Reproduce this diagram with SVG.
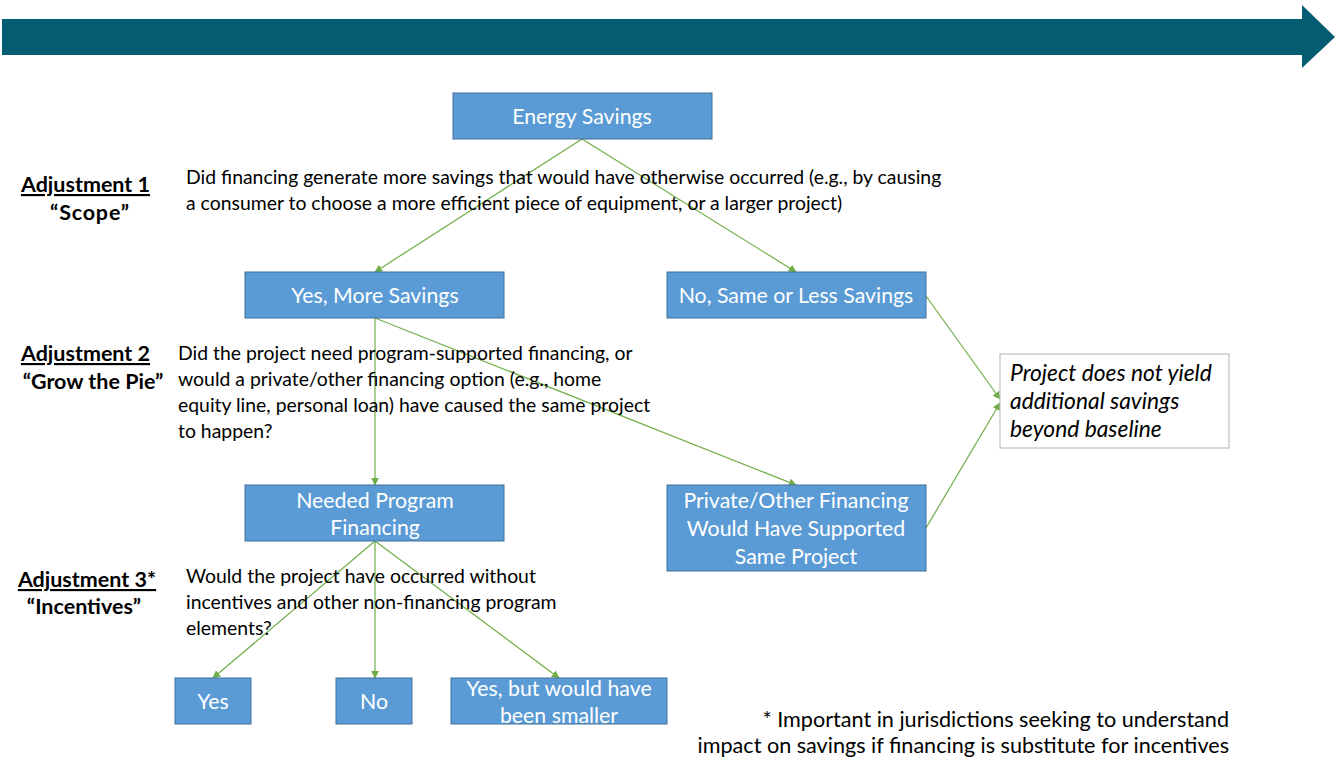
<svg xmlns="http://www.w3.org/2000/svg" width="1340" height="760" viewBox="0 0 1340 760">
<defs>
<style>
.box{fill:#5B9BD5;stroke:#41719C;stroke-width:1}
.bt{font-family:Lato,"Open Sans",sans-serif;font-size:21.3px;fill:#fff;text-anchor:middle}
.q{font-family:Lato,"Open Sans",sans-serif;font-size:19.4px;fill:#000}
.adj{font-family:Lato,"Open Sans",sans-serif;font-size:21.5px;font-weight:bold;fill:#000;text-anchor:middle}
.con{stroke:#70AD47;stroke-width:1.2;fill:none;marker-end:url(#ah)}
.note{font-family:Lato,"Open Sans",sans-serif;font-size:21.6px;fill:#000;text-anchor:end}
</style>
<marker id="ah" viewBox="0 0 10 10" refX="9" refY="5" markerWidth="8" markerHeight="8" markerUnits="userSpaceOnUse" orient="auto">
<path d="M0,0 L10,5 L0,10 z" fill="#70AD47"/>
</marker>
</defs>
<rect width="1340" height="760" fill="#fff"/>
<g id="banner">
<polygon points="2,19 1302,19 1302,5 1335,37 1302,68 1302,55 2,55" fill="#045C73"/>
</g>
<g id="connectors">
<line class="con" x1="582" y1="139" x2="375" y2="272"/>
<line class="con" x1="582" y1="139" x2="796" y2="272"/>
<line class="con" x1="926" y1="296" x2="1000" y2="399"/>
<line class="con" x1="926" y1="528" x2="1000" y2="403"/>
<line class="con" x1="375" y1="318" x2="375" y2="485"/>
<line class="con" x1="375" y1="318" x2="796" y2="485"/>
<line class="con" x1="375" y1="541" x2="213" y2="678"/>
<line class="con" x1="375" y1="541" x2="375" y2="678"/>
<line class="con" x1="375" y1="541" x2="559" y2="678"/>
</g>
<g id="energy-savings">
<rect class="box" x="453" y="93" width="259" height="46"/>
<text class="bt" x="582" y="124">Energy Savings</text>
</g>
<g id="yes-more">
<rect class="box" x="245" y="272" width="259" height="46"/>
<text class="bt" x="375" y="303">Yes, More Savings</text>
</g>
<g id="no-same">
<rect class="box" x="667" y="272" width="259" height="46"/>
<text class="bt" x="796" y="303">No, Same or Less Savings</text>
</g>
<g id="no-yield">
<rect x="1000" y="354" width="229" height="94" fill="#fff" stroke="#BFBFBF" stroke-width="1.2"/>
<text font-family="Lato,'Open Sans',sans-serif" font-size="22.8" font-style="italic" fill="#000">
<tspan x="1010" y="381">Project does not yield</tspan>
<tspan x="1010" y="409">additional savings</tspan>
<tspan x="1010" y="437">beyond baseline</tspan>
</text>
</g>
<g id="needed">
<rect class="box" x="245" y="485" width="259" height="56"/>
<text class="bt"><tspan x="375" y="508">Needed Program</tspan><tspan x="375" y="535">Financing</tspan></text>
</g>
<g id="private">
<rect class="box" x="667" y="485" width="259" height="86"/>
<text class="bt"><tspan x="796" y="508">Private/Other Financing</tspan><tspan x="796" y="536">Would Have Supported</tspan><tspan x="796" y="564">Same Project</tspan></text>
</g>
<g id="yes">
<rect class="box" x="175" y="678" width="76" height="46"/>
<text class="bt" x="213" y="709">Yes</text>
</g>
<g id="no">
<rect class="box" x="336" y="678" width="76" height="46"/>
<text class="bt" x="374" y="709">No</text>
</g>
<g id="yes-smaller">
<rect class="box" x="451" y="678" width="216" height="46"/>
<text class="bt"><tspan x="559" y="696">Yes, but would have</tspan><tspan x="559" y="723">been smaller</tspan></text>
</g>
<g id="labels">
<text class="adj" x="85.5" y="192" text-decoration="underline">Adjustment 1</text>
<text class="adj" x="90" y="220" font-size="22.5" letter-spacing="0.8">“Scope”</text>
<text class="q"><tspan x="186" y="184">Did financing generate more savings that would have otherwise occurred (e.g., by causing</tspan><tspan x="186" y="210">a consumer to choose a more efficient piece of equipment, or a larger project)</tspan></text>
<text class="adj" x="85.5" y="361" text-decoration="underline">Adjustment 2</text>
<text class="adj" x="93" y="389" font-size="22.3">“Grow the Pie”</text>
<text class="q"><tspan x="178" y="360">Did the project need program-supported financing, or</tspan><tspan x="178" y="386">would a private/other financing option (e.g., home</tspan><tspan x="178" y="412">equity line, personal loan) have caused the same project</tspan><tspan x="178" y="438">to happen?</tspan></text>
<text class="adj" x="87" y="587" text-decoration="underline">Adjustment 3*</text>
<text class="adj" x="84" y="614" font-size="21">“Incentives”</text>
<text class="q"><tspan x="186" y="583">Would the project have occurred without</tspan><tspan x="186" y="609">incentives and other non-financing program</tspan><tspan x="186" y="635">elements?</tspan></text>
<text class="note"><tspan x="1229" y="727">* Important in jurisdictions seeking to understand</tspan><tspan x="1229" y="753">impact on savings if financing is substitute for incentives</tspan></text>
</g>
</svg>
